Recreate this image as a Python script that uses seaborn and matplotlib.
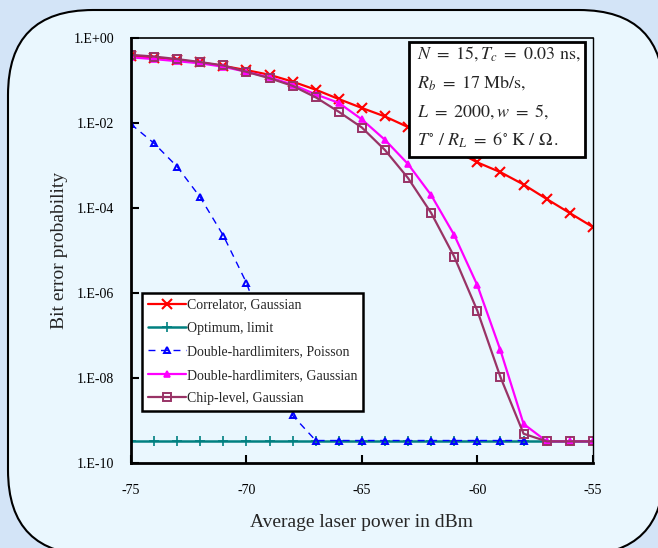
import numpy as np
import pandas as pd
import matplotlib
matplotlib.use("Agg")
import matplotlib.pyplot as plt
import seaborn as sns
from matplotlib.patches import FancyBboxPatch, Rectangle
from matplotlib.ticker import FixedLocator, FuncFormatter

# power axis in dBm, one point per dB
power = list(range(-75, -54))

# values below are log10 of the bit error probability
correlator_log = [-0.43, -0.47, -0.52, -0.58, -0.66, -0.76, -0.87, -1.03, -1.22, -1.44,
                  -1.65, -1.85, -2.10, -2.35, -2.64, -2.93, -3.16, -3.45, -3.79, -4.12, -4.45]
optimum_log = [-9.47] * 21
poisson_power = list(range(-75, -57))
poisson_log = [-2.03, -2.48, -3.03, -3.75, -4.65, -5.76, -7.25, -8.88, -9.47,
               -9.47, -9.47, -9.47, -9.47, -9.47, -9.47, -9.47, -9.47, -9.47]
hard_gauss_log = [-0.46, -0.50, -0.55, -0.60, -0.68, -0.80, -0.93, -1.10, -1.33, -1.53,
                  -1.92, -2.40, -2.97, -3.70, -4.64, -5.82, -7.35, -9.08, -9.49, -9.49, -9.49]
chip_log = [-0.40, -0.44, -0.50, -0.57, -0.65, -0.80, -0.95, -1.13, -1.40, -1.74,
            -2.11, -2.64, -3.30, -4.12, -5.15, -6.42, -7.98, -9.31, -9.49, -9.49, -9.49]

labels = ["Correlator, Gaussian", "Optimum, limit", "Double-hardlimiters, Poisson",
          "Double-hardlimiters, Gaussian", "Chip-level, Gaussian"]

sns.set_style("ticks")
plt.rcParams["font.family"] = ["Liberation Serif", "DejaVu Serif"]
plt.rcParams["mathtext.fontset"] = "stix"
plt.rcParams["axes.unicode_minus"] = False

fig = plt.figure(figsize=(6.58, 5.48), dpi=100, facecolor="#d3e4f7")

# rounded panel behind the chart
panel = FancyBboxPatch((0.08, 5.48 - 5.55), 6.56, 5.45,
                       boxstyle="round,pad=0,rounding_size=0.85",
                       transform=fig.dpi_scale_trans, facecolor="#eaf7fe",
                       edgecolor="black", linewidth=1.5, zorder=-5)
fig.patches.append(panel)

ax = fig.add_axes([0.199, 0.155, 0.702, 0.776])
ax.set_zorder(1)
ax.set_facecolor("#eaf7fe")

def draw(x, logs, **kw):
    df = pd.DataFrame({"x": x, "y": np.power(10.0, logs)})
    sns.lineplot(data=df, x="x", y="y", ax=ax, **kw)

draw(power, correlator_log, color="#ff0000", lw=1.6, marker="x", ms=7, mew=1.5,
     mec="#ff0000", label=labels[0])
draw(power, optimum_log, color="#008080", lw=1.8, marker="+", ms=7, mew=1.2,
     mec="#008080", label=labels[1])
draw(poisson_power, poisson_log, color="#0000ff", lw=1.0, linestyle=(0, (5, 4)),
     marker="^", ms=5, mew=1.4, mfc="none", mec="#0000ff", label=labels[2])
draw(power, hard_gauss_log, color="#ff00ff", lw=1.6, marker="^", ms=5, mew=1.2,
     mec="#ff00ff", label=labels[3])
draw(power, chip_log, color="#993366", lw=1.6, marker="s", ms=6, mew=1.4,
     mfc="none", mec="#993366", label=labels[4])

ax.set_yscale("log")
ax.set_xlim(-75, -55)
ax.set_ylim(1e-10, 1.0)
ax.xaxis.set_major_locator(FixedLocator([-75, -70, -65, -60, -55]))
ax.yaxis.set_major_locator(FixedLocator([10.0 ** e for e in range(-10, 1, 2)]))
ax.yaxis.set_minor_locator(FixedLocator([]))
ax.yaxis.set_major_formatter(FuncFormatter(lambda v, p: "1.E%+03d" % int(round(np.log10(v)))))
ax.tick_params(direction="in", length=6, width=1.5, labelsize=10, colors="black", pad=12)
ax.tick_params(axis="x", pad=15)

for side, w in [("left", 2.0), ("bottom", 2.0), ("top", 1.2), ("right", 1.0)]:
    ax.spines[side].set_visible(True)
    ax.spines[side].set_linewidth(w)
    ax.spines[side].set_color("black")

ax.set_xlabel("Average laser power in dBm", fontsize=14, labelpad=12)
ax.set_ylabel("Bit error probability", fontsize=14, labelpad=4)

leg = ax.legend(loc="upper left", bbox_to_anchor=(0.024, 0.40), borderaxespad=0,
                fontsize=10, handlelength=2.8, handletextpad=0.05, labelspacing=0.75,
                frameon=True, fancybox=False, borderpad=0.4)
leg.get_frame().set_edgecolor("black")
leg.get_frame().set_linewidth(1.8)
leg.get_frame().set_facecolor("white")
leg.get_frame().set_alpha(1)

# parameter box in the upper right corner
ax.add_patch(Rectangle((0.602, 0.72), 0.381, 0.271, transform=ax.transAxes,
                       facecolor="white", edgecolor="black", linewidth=2.0, zorder=5))
params = [r"$N\ =\ 15, T_{c}\ =\ 0.03\ \mathrm{ns},$",
          r"$R_{b}\ =\ 17\ \mathrm{Mb/s},$",
          r"$L\ =\ 2000, w\ =\ 5,$",
          r"$T^{\circ}\ /\ R_{L}\ =\ 6^{\circ}\ \mathrm{K}\ /\ \Omega\,.$"]
for i, line in enumerate(params):
    ax.text(0.62, 0.963 - i * 0.068, line, transform=ax.transAxes, fontsize=13,
            va="center", ha="left", zorder=6)

fig.savefig("out.png", dpi=100, facecolor=fig.get_facecolor())
